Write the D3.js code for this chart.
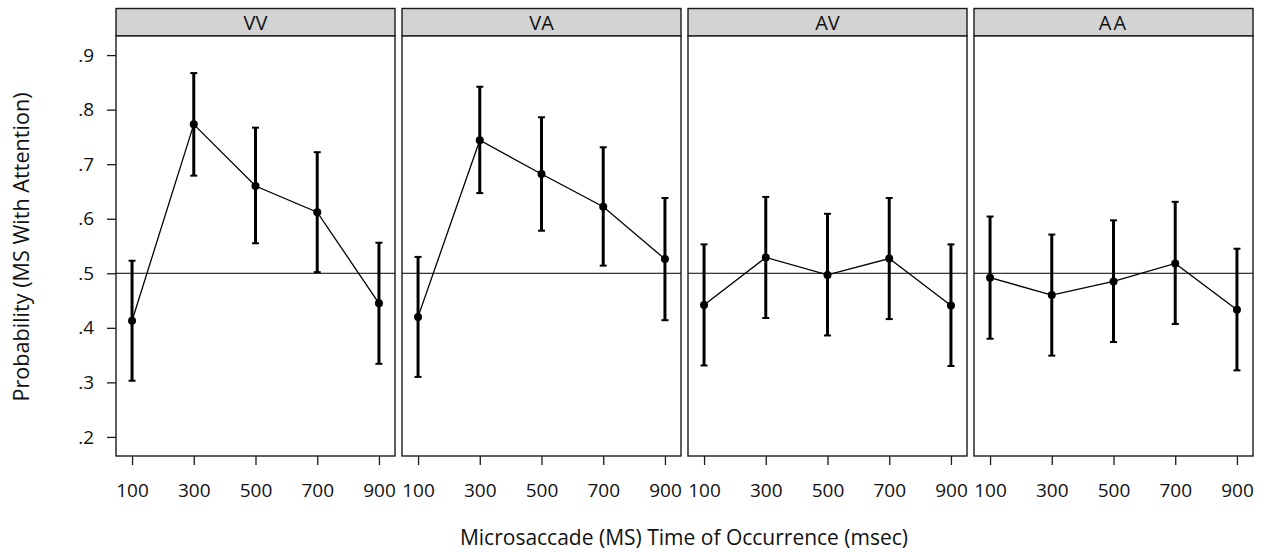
<!DOCTYPE html>
<html>
<head>
<meta charset="utf-8">
<script src="https://cdn.jsdelivr.net/npm/d3@7"></script>
<style>
  html, body { margin: 0; padding: 0; background: #fff; }
  text { font-family: "Open Sans", sans-serif; fill: #111; }
</style>
</head>
<body>
<svg id="chart" width="1264" height="552"></svg>
<script>
// ---- data ----
const panels = ["VV", "VA", "AV", "AA"];
const times = [100, 300, 500, 700, 900];
const yTicks = [0.2, 0.3, 0.4, 0.5, 0.6, 0.7, 0.8, 0.9];
const meanVV = [0.413, 0.773, 0.660, 0.612, 0.445];
const lowVV  = [0.303, 0.679, 0.555, 0.502, 0.334];
const highVV = [0.523, 0.867, 0.767, 0.722, 0.556];
const meanVA = [0.420, 0.744, 0.682, 0.622, 0.526];
const lowVA  = [0.310, 0.647, 0.578, 0.514, 0.414];
const highVA = [0.530, 0.842, 0.786, 0.731, 0.638];
const meanAV = [0.442, 0.529, 0.497, 0.527, 0.441];
const lowAV  = [0.331, 0.418, 0.386, 0.416, 0.330];
const highAV = [0.553, 0.640, 0.609, 0.638, 0.553];
const meanAA = [0.492, 0.460, 0.485, 0.518, 0.433];
const lowAA  = [0.380, 0.349, 0.374, 0.407, 0.322];
const highAA = [0.604, 0.571, 0.597, 0.631, 0.545];
const refLine = 0.5;
const xLabel = "Microsaccade (MS) Time of Occurrence (msec)";
const yLabel = "Probability (MS With Attention)";

const series = {
  VV: {mean: meanVV, low: lowVV, high: highVV},
  VA: {mean: meanVA, low: lowVA, high: highVA},
  AV: {mean: meanAV, low: lowAV, high: highAV},
  AA: {mean: meanAA, low: lowAA, high: highAA}
};

// ---- layout ----
const svg = d3.select("#chart");
const left = 116, panelW = 279, gap = 7;
const stripTop = 8.5, plotTop = 36, plotBottom = 456;
const tickFont = "19px", labelFont = "21px";

const panelX = d3.scaleBand().domain(panels)
  .range([left, left + panels.length * panelW + (panels.length - 1) * gap])
  .paddingInner(gap / (panelW + gap)).paddingOuter(0);

const x = d3.scaleLinear().domain([48, 952]).range([0, panelX.bandwidth()]);
const y = d3.scaleLinear().domain([0.165, 0.935]).range([plotBottom, plotTop]);
const fmt = v => d3.format(".1f")(v).replace(/^0/, "");

panels.forEach((p, pi) => {
  const g = svg.append("g").attr("transform", `translate(${panelX(p)},0)`);
  const w = panelX.bandwidth();
  const s = series[p];
  const pts = times.map((t, i) => ({t, m: s.mean[i], lo: s.low[i], hi: s.high[i]}));

  // strip
  g.append("rect").attr("x", 0).attr("y", stripTop).attr("width", w).attr("height", plotTop - stripTop)
    .attr("fill", "#d3d3d3").attr("stroke", "#1a1a1a").attr("stroke-width", 1.4);
  g.append("text").attr("x", w / 2).attr("y", 29.5).attr("text-anchor", "middle")
    .style("font-size", "20px").style("letter-spacing", p === "AA" ? "2px" : "0px").text(p);

  // panel frame
  g.append("rect").attr("x", 0).attr("y", plotTop).attr("width", w).attr("height", plotBottom - plotTop)
    .attr("fill", "#fff").attr("stroke", "#1a1a1a").attr("stroke-width", 1.4);

  // reference line
  g.append("line").attr("x1", 0).attr("x2", w).attr("y1", y(refLine)).attr("y2", y(refLine))
    .attr("stroke", "#000").attr("stroke-width", 1);

  // x axis
  const xa = g.append("g").attr("transform", `translate(0,${plotBottom})`)
    .call(d3.axisBottom(x).tickValues(times).tickSize(9).tickSizeOuter(0).tickPadding(19));
  xa.select(".domain").remove();
  xa.selectAll(".tick line").attr("stroke", "#1a1a1a").attr("stroke-width", 1.3);
  xa.selectAll(".tick text").style("font-size", tickFont).style("font-family", '"Open Sans", sans-serif').attr("fill", "#111");

  // y axis on first panel
  if (pi === 0) {
    const ya = g.append("g")
      .call(d3.axisLeft(y).tickValues(yTicks).tickFormat(fmt).tickSize(9).tickPadding(13));
    ya.select(".domain").remove();
    ya.selectAll(".tick line").attr("stroke", "#1a1a1a").attr("stroke-width", 1.3);
    ya.selectAll(".tick text").style("font-size", tickFont).style("font-family", '"Open Sans", sans-serif').attr("fill", "#111");
  }

  // connecting line
  g.append("path").datum(pts)
    .attr("d", d3.line().x(d => x(d.t)).y(d => y(d.m)))
    .attr("fill", "none").attr("stroke", "#000").attr("stroke-width", 1.3);

  // error bars
  const eb = g.selectAll(".eb").data(pts).enter().append("g");
  eb.append("line").attr("x1", d => x(d.t)).attr("x2", d => x(d.t))
    .attr("y1", d => y(d.lo)).attr("y2", d => y(d.hi))
    .attr("stroke", "#000").attr("stroke-width", 3);
  eb.append("line").attr("x1", d => x(d.t) - 3.5).attr("x2", d => x(d.t) + 3.5)
    .attr("y1", d => y(d.hi)).attr("y2", d => y(d.hi))
    .attr("stroke", "#000").attr("stroke-width", 2);
  eb.append("line").attr("x1", d => x(d.t) - 3.5).attr("x2", d => x(d.t) + 3.5)
    .attr("y1", d => y(d.lo)).attr("y2", d => y(d.lo))
    .attr("stroke", "#000").attr("stroke-width", 2);
  eb.append("circle").attr("cx", d => x(d.t)).attr("cy", d => y(d.m)).attr("r", 4).attr("fill", "#000");
});

// axis titles
svg.append("text").attr("x", 684).attr("y", 545).attr("text-anchor", "middle")
  .style("font-size", labelFont).text(xLabel);
svg.append("text").attr("transform", "translate(29,247) rotate(-90)").attr("text-anchor", "middle")
  .style("font-size", "21.6px").text(yLabel);
</script>
</body>
</html>
